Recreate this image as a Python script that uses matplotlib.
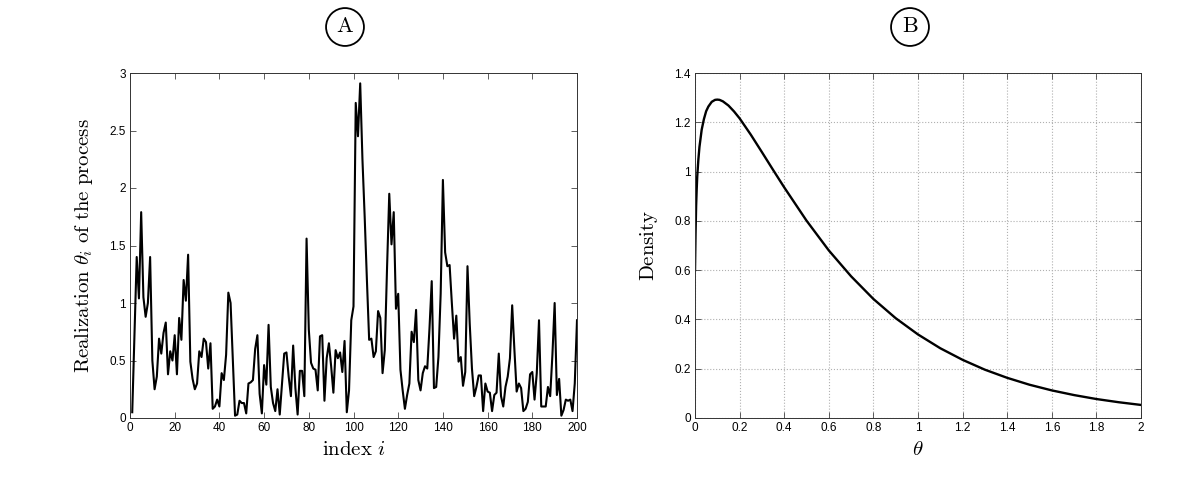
import numpy as np
import matplotlib
matplotlib.use("Agg")
from matplotlib import pyplot as plt

plt.rcParams['mathtext.fontset'] = 'cm'
plt.rcParams['font.family'] = ['Liberation Sans', 'DejaVu Sans']

# panel A: realization of the process
indice = np.arange(1, 201)
theta_i = [0.05, 0.72, 1.40, 1.04, 1.79, 1.05, 0.88, 1.00, 1.40, 0.50,
           0.25, 0.36, 0.69, 0.56, 0.74, 0.83, 0.38, 0.58, 0.50, 0.72,
           0.38, 0.87, 0.68, 1.20, 1.02, 1.42, 0.49, 0.34, 0.25, 0.30,
           0.58, 0.53, 0.69, 0.66, 0.43, 0.65, 0.08, 0.10, 0.16, 0.10,
           0.39, 0.33, 0.55, 1.09, 1.00, 0.50, 0.02, 0.03, 0.15, 0.13,
           0.13, 0.04, 0.30, 0.31, 0.33, 0.60, 0.72, 0.21, 0.04, 0.46,
           0.29, 0.81, 0.27, 0.13, 0.06, 0.25, 0.03, 0.30, 0.56, 0.57,
           0.36, 0.19, 0.63, 0.26, 0.03, 0.41, 0.41, 0.19, 1.56, 0.77,
           0.48, 0.43, 0.42, 0.24, 0.71, 0.72, 0.15, 0.52, 0.65, 0.45,
           0.22, 0.59, 0.52, 0.57, 0.40, 0.67, 0.05, 0.24, 0.85, 0.97,
           2.74, 2.45, 2.91, 2.25, 1.75, 1.20, 0.68, 0.69, 0.53, 0.58,
           0.93, 0.87, 0.39, 0.59, 1.30, 1.95, 1.51, 1.79, 0.95, 1.08,
           0.42, 0.24, 0.08, 0.20, 0.30, 0.75, 0.66, 0.94, 0.33, 0.24,
           0.39, 0.45, 0.43, 0.78, 1.19, 0.26, 0.27, 0.53, 1.08, 2.07,
           1.44, 1.32, 1.33, 1.00, 0.69, 0.89, 0.49, 0.53, 0.28, 0.40,
           1.32, 0.82, 0.43, 0.19, 0.27, 0.37, 0.37, 0.06, 0.30, 0.23,
           0.22, 0.06, 0.20, 0.22, 0.56, 0.19, 0.10, 0.27, 0.36, 0.52,
           0.98, 0.59, 0.23, 0.30, 0.26, 0.06, 0.08, 0.14, 0.38, 0.40,
           0.16, 0.39, 0.85, 0.10, 0.10, 0.10, 0.27, 0.19, 0.55, 1.00,
           0.20, 0.34, 0.02, 0.07, 0.16, 0.15, 0.16, 0.06, 0.30, 0.85]

# panel B: density curve
theta = [0, 0.0025, 0.005, 0.0075, 0.01, 0.015, 0.02, 0.03, 0.04, 0.05,
         0.06, 0.075, 0.09, 0.1, 0.11, 0.125, 0.15, 0.175,
         0.2, 0.25, 0.3, 0.35, 0.4, 0.5, 0.6, 0.7, 0.8, 0.9, 1.0,
         1.1, 1.2, 1.3, 1.4, 1.5, 1.6, 1.7, 1.8, 1.9, 2.0]
densidad = [0.60, 0.75, 0.86, 0.926, 0.98, 1.048, 1.10, 1.17, 1.213, 1.245,
            1.264, 1.283, 1.291, 1.292, 1.291, 1.285, 1.268, 1.244,
            1.216, 1.150, 1.079, 1.007, 0.936, 0.801, 0.680, 0.575, 0.483, 0.405, 0.339,
            0.283, 0.236, 0.196, 0.163, 0.135, 0.112, 0.093, 0.077, 0.064, 0.053]

fig = plt.figure(figsize=(12, 4.82), dpi=100)
axA = fig.add_axes([130/1200, 64/482, 447/1200, 345/482])
axB = fig.add_axes([695/1200, 64/482, 446/1200, 345/482])

axA.plot(indice, theta_i, color='k', lw=1.5)
axA.set_xlim(0, 200)
axA.set_ylim(0, 3)
axA.set_xticks(np.arange(0, 201, 20))
axA.set_yticks([0, 0.5, 1, 1.5, 2, 2.5, 3])
axA.set_yticklabels(['0', '0.5', '1', '1.5', '2', '2.5', '3'])
axA.set_xlabel(r'$\mathrm{index}\ i$', fontsize=15, labelpad=4)
axA.set_ylabel(r'$\mathrm{Realization}\ \theta_i\ \mathrm{of\ the\ process}$', fontsize=15, labelpad=10)

axB.plot(theta, densidad, color='k', lw=1.7)
axB.set_xlim(0, 2)
axB.set_ylim(0, 1.4)
axB.set_xticks(np.arange(0, 2.01, 0.2))
axB.set_xticklabels(['0', '0.2', '0.4', '0.6', '0.8', '1', '1.2', '1.4', '1.6', '1.8', '2'])
axB.set_yticks(np.arange(0, 1.41, 0.2))
axB.set_yticklabels(['0', '0.2', '0.4', '0.6', '0.8', '1', '1.2', '1.4'])
axB.grid(True, color='#b0b0b0', ls=':', lw=0.8)
axB.set_xlabel(r'$\theta$', fontsize=15, labelpad=4)
axB.set_ylabel(r'$\mathrm{Density}$', fontsize=15, labelpad=10)

for ax in (axA, axB):
    ax.tick_params(direction='in', top=True, right=True, labelsize=8.5,
                   length=4, width=0.6, color='#444444', pad=3)
    for s in ax.spines.values():
        s.set_linewidth(0.7)
        s.set_color('#333333')

# letras en circulos arriba de cada panel
for x, letra in [(345/1200, 'A'), (910/1200, 'B')]:
    fig.text(x, 1 - 27/482, r'$\mathrm{%s}$' % letra, fontsize=16, ha='center', va='center',
             bbox=dict(boxstyle='circle,pad=0.38', fc='white', ec='k', lw=1.3))

fig.savefig('out.png', dpi=100)
